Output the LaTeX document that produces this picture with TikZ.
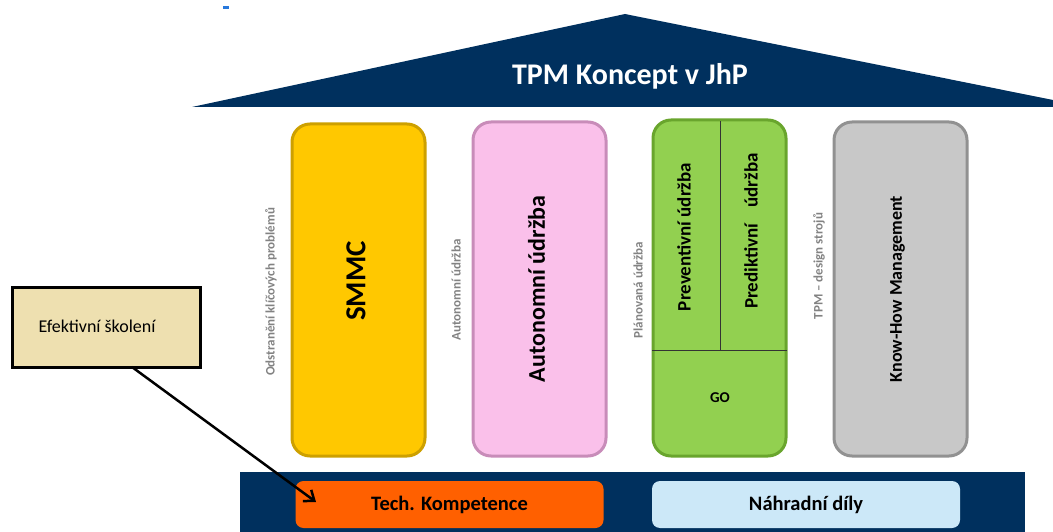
\documentclass[tikz,border=0pt]{standalone}
\usepackage{fontspec}
\setmainfont{Carlito}
\usetikzlibrary{arrows.meta}
\definecolor{navy}{RGB}{0,48,94}
\definecolor{yel}{RGB}{255,200,0}
\definecolor{yeld}{RGB}{205,160,0}
\definecolor{pinkc}{RGB}{250,192,234}
\definecolor{pinkd}{RGB}{200,140,185}
\definecolor{grn}{RGB}{146,208,80}
\definecolor{grnd}{RGB}{105,165,45}
\definecolor{gry}{RGB}{200,200,200}
\definecolor{gryd}{RGB}{145,145,145}
\definecolor{orng}{RGB}{255,96,0}
\definecolor{lblue}{RGB}{204,232,248}
\definecolor{beige}{RGB}{238,224,176}
\definecolor{sidegray}{RGB}{130,130,130}
\definecolor{markblue}{RGB}{40,120,220}
\tikzset{
  pillar/.style={rounded corners=18pt, line width=3pt, minimum width=133pt, minimum height=332pt, inner sep=0pt},
  ptext/.style={rotate=90, font=\bfseries, text=black},
  side/.style={rotate=90, font=\fontsize{13}{15}\selectfont\bfseries, text=sidegray},
  basebox/.style={rounded corners=8pt, minimum width=308pt, minimum height=47pt, font=\fontsize{20.5}{24}\selectfont\bfseries, inner sep=0pt},
}
\begin{document}
\begin{tikzpicture}[x=1pt,y=-1pt]
\useasboundingbox (0,0) rectangle (1053,532);
% tiny mark
\fill[markblue] (223,6) rectangle (229,9);
% roof
\fill[navy] (192,107) -- (625,14) -- (1053,100) -- (1053,107) -- cycle;
\node[text=white, font=\fontsize{30}{34}\selectfont\bfseries] (title) at (630,76) {TPM Koncept v JhP};
% pillars
\node[pillar, fill=yel, draw=yeld] (smmc) at (358.5,290) {};
\node[ptext, font=\fontsize{29}{34}\selectfont\bfseries] at (356,281) {SMMC};
\node[pillar, fill=pinkc, draw=pinkd, minimum height=334pt] (au) at (539.5,289) {};
\node[ptext, font=\fontsize{24}{28}\selectfont\bfseries] at ([xshift=-3pt]au) {Autonomní údržba};
\node[pillar, fill=grn, draw=grnd, minimum height=336pt] (pl) at (719.5,288) {};
\draw[black!80, line width=0.8pt] (652,350) -- (787,350);
\draw[black!80, line width=0.8pt] (720,121) -- (720,350);
\node[ptext, font=\fontsize{19}{22}\selectfont\bfseries] (prev) at (684,237) {Preventivní údržba};
\node[ptext, font=\fontsize{19}{22}\selectfont\bfseries] (pred) at (751,231) {Prediktivní\hspace{16pt}údržba};
\node[font=\fontsize{15}{18}\selectfont\bfseries] (go) at (720,398) {GO};
\node[pillar, fill=gry, draw=gryd, minimum height=334pt] (kh) at (900.5,289) {};
\node[ptext, font=\fontsize{18}{21}\selectfont\bfseries] at ([xshift=-3pt]kh) {Know-How Management};
% side labels
\node[side] (s1) at (271,292) {Odstranění klíčových problémů};
\node[side] (s2) at (456,290) {Autonomní údržba};
\node[side] (s3) at (638,290) {Plánovaná údržba};
\node[side] (s4) at (819,266) {TPM – design strojů};
% base
\fill[navy] (240,472) rectangle (1025,532);
\node[basebox, fill=orng, text=black] (tech) at (449.5,504.5) {Tech. Kompetence};
\node[basebox, fill=lblue, text=black] (nd) at (806,504.5) {Náhradní díly};
% training box
\node[draw=black, line width=3pt, fill=beige, minimum width=188pt, minimum height=80pt, inner sep=0pt] (ef) at (106,327) {};
\node[font=\fontsize{18}{21}\selectfont, anchor=west] (eft) at (35,326) {Efektivní školení};
\coordinate (tip) at (316,502);
\draw[line width=2.5pt, -{Straight Barb[length=9pt,width=14pt,line width=2.5pt]}] (132,367) -- (tip);
\end{tikzpicture}
\end{document}
